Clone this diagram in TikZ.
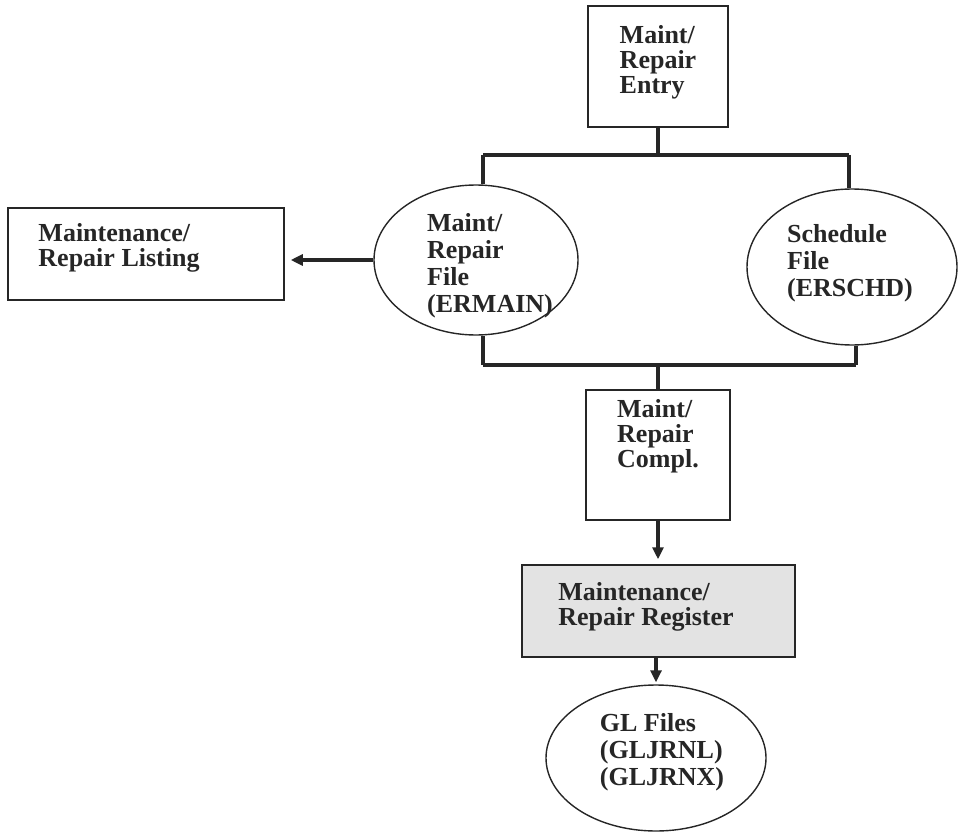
\documentclass[tikz,border=0pt]{standalone}
\usepackage{fontspec}
\setmainfont{Liberation Serif}
\usetikzlibrary{shapes.geometric,arrows.meta}
\begin{document}
\begin{tikzpicture}[x=1pt,y=-1pt,
  lbl/.style={font=\bfseries\fontsize{26}{25}\selectfont, align=left, inner sep=0pt, text=black!85},
  lblwide/.style={lbl, font=\bfseries\fontsize{26}{27}\selectfont},
  box/.style={draw=black!85, line width=1.5pt, inner sep=0pt},
  file/.style={draw=black!85, ellipse, line width=1.4pt, inner sep=0pt},
  link/.style={draw=black!85, line width=3.5pt},
  flow/.style={draw=black!85, line width=3.5pt, -{Triangle[length=12pt,width=11pt]}}]
\useasboundingbox (0,0) rectangle (960,834);

% process boxes
\node[box, minimum width=140pt, minimum height=121pt] (entry) at (658,66.5) {};
\node[lbl] (entryT) at (658,62) {Maint/\\Repair\\Entry};

\node[box, minimum width=144pt, minimum height=130pt] (compl) at (658,455) {};
\node[lbl] (complT) at (658,436) {Maint/\\Repair\\Compl.};

\node[box, minimum width=276pt, minimum height=92pt] (listing) at (146,254) {};
\node[lbl] (listingT) at (119,248) {Maintenance/\\Repair Listing};

\node[box, fill=black!11, minimum width=273pt, minimum height=92pt] (register) at (658.5,611) {};
\node[lbl] (registerT) at (646,607) {Maintenance/\\Repair Register};

% data files
\node[file, minimum width=204pt, minimum height=150pt] (ermain) at (476,260) {};
\node[lblwide] (ermainT) at (490,266) {Maint/\\Repair\\File\\(ERMAIN)};

\node[file, minimum width=210pt, minimum height=156pt] (sched) at (852,267) {};
\node[lblwide] (schedT) at (850,263) {Schedule\\File\\(ERSCHD)};

\node[file, minimum width=220pt, minimum height=146pt] (gl) at (656,758) {};
\node[lblwide] (glT) at (662,752) {GL Files\\(GLJRNL)\\(GLJRNX)};

% branch points of the connecting lines
\coordinate (tl) at (483,155);
\coordinate (tr) at (849,155);
\coordinate (bl) at (483,365);
\coordinate (br) at (856,365);

% entry feeds both files
\draw[link] (entry.south) -- (entry.south |- tl);
\draw[link] (tl) -- (tr);
\draw[link] (tl) -- (tl |- ermain.north);
\draw[link] (tr) -- (tr |- sched.north);

% both files feed completion
\draw[link] (bl |- ermain.south) -- (bl);
\draw[link] (br |- sched.south) -- (br);
\draw[link] (bl) -- (br);
\draw[link] (compl.north |- bl) -- (compl.north);

% outputs
\draw[flow, shorten >=6pt] (ermain.west) -- (ermain.west -| listing.east);
\draw[flow, shorten >=5pt] (compl.south) -- (compl.south |- register.north);
\draw[flow, shorten >=2pt] (register.south -| gl.north) -- (gl.north);
\end{tikzpicture}
\end{document}
